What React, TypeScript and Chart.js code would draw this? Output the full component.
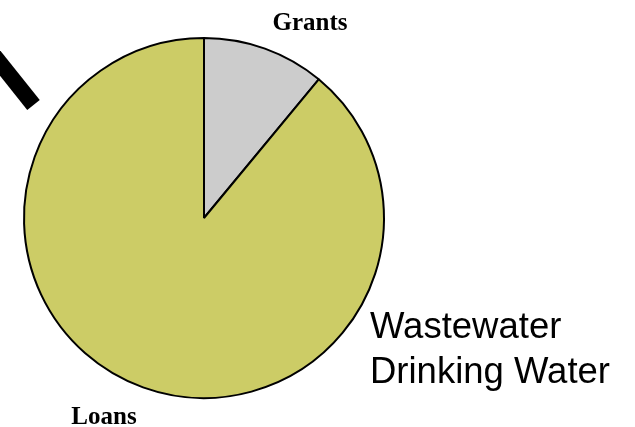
import React, { useEffect, useRef } from "react";
import { Chart, registerables } from "chart.js";

Chart.register(...registerables);

const categories = ["Grants", "Loans"];
const values = [11, 89];
const sliceColors = ["#CCCCCC", "#CCCC66"];
const sideLines = ["Wastewater", "Drinking Water"];

const overlay = {
  id: "overlay",
  beforeDraw(chart: any) {
    const ctx = chart.ctx;
    ctx.save();
    ctx.strokeStyle = "#000";
    ctx.lineWidth = 16;
    ctx.lineCap = "butt";
    ctx.beginPath();
    ctx.moveTo(-20, 38);
    ctx.lineTo(33.5, 105);
    ctx.stroke();
    ctx.restore();
  },
  afterDraw(chart: any) {
    const ctx = chart.ctx;
    ctx.save();
    ctx.fillStyle = "#000";
    ctx.textAlign = "center";
    ctx.textBaseline = "alphabetic";
    ctx.font = "bold 25px 'Liberation Serif', 'Times New Roman', serif";
    ctx.fillText(categories[0], 310, 30);
    ctx.fillText(categories[1], 104, 424);
    ctx.textAlign = "left";
    ctx.font = "36.5px 'Liberation Sans', Arial, sans-serif";
    ctx.fillText(sideLines[0], 370, 338);
    ctx.fillText(sideLines[1], 370, 383);
    ctx.restore();
  },
};

export default function App() {
  const ref = useRef<HTMLCanvasElement>(null);
  useEffect(() => {
    document.body.style.margin = "0";
    const chart = new Chart(ref.current!, {
      type: "pie",
      data: {
        labels: categories,
        datasets: [
          {
            data: values,
            backgroundColor: sliceColors,
            borderColor: "#000",
            borderWidth: 2,
          },
        ],
      },
      options: {
        responsive: false,
        animation: false,
        layout: { padding: { left: 23, top: 37, right: 250, bottom: 28 } },
        plugins: { legend: { display: false }, tooltip: { enabled: false } },
      },
      plugins: [overlay],
    });
    return () => chart.destroy();
  }, []);
  return <canvas ref={ref} width={635} height={427} style={{ display: "block" }} />;
}
